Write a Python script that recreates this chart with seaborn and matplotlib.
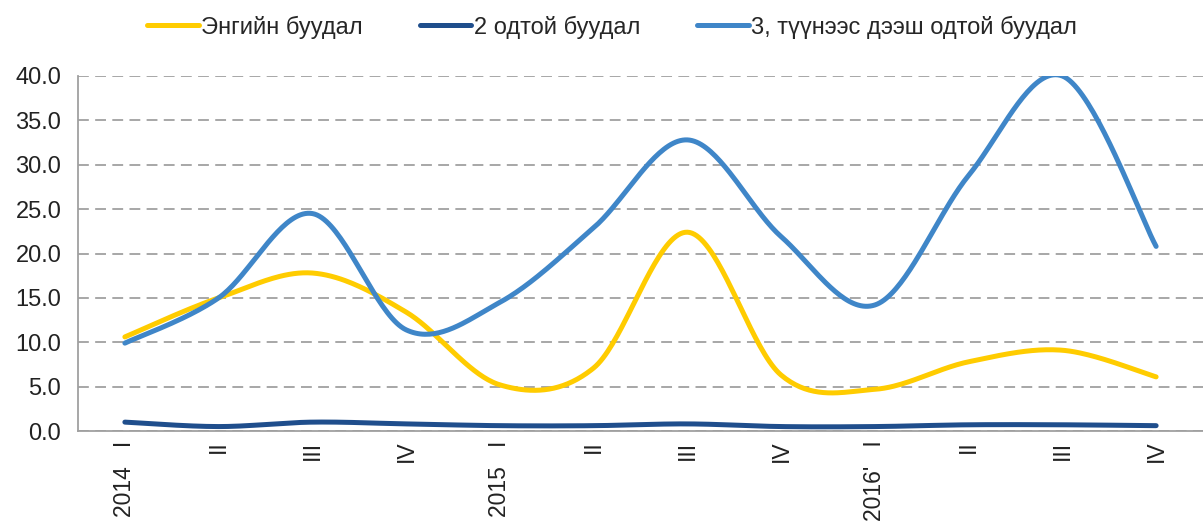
import numpy as np
import pandas as pd
import matplotlib
matplotlib.use('Agg')
import matplotlib.pyplot as plt
import seaborn as sns

# Quarter labels and series values
quarters = ['2014   I', 'II', 'III', 'IV', '2015   I', 'II', 'III', 'IV',
            "2016'   I", 'II', 'III', 'IV']
simple_vals = [10.6, 15.0, 17.8, 13.4, 5.2, 7.1, 22.4, 6.3, 4.7, 7.8, 9.1, 6.1]
two_star_vals = [1.0, 0.5, 1.0, 0.8, 0.6, 0.6, 0.8, 0.5, 0.5, 0.7, 0.7, 0.6]
three_star_vals = [9.9, 15.0, 24.5, 11.4, 14.5, 22.9, 32.8, 21.9, 14.2, 28.8, 40.0, 20.8]

series_names = ['Энгийн буудал', '2 одтой буудал', '3, түүнээс дээш одтой буудал']
series_vals = [simple_vals, two_star_vals, three_star_vals]
colors = ['#FFCC00', '#1F4E8C', '#3F86C8']


def smooth(xs, ys, sx=94.2, sy=8.875, n=40):
    # Catmull-Rom curve through the points (like Excel "smoothed line")
    P = np.column_stack([np.asarray(xs, float) * sx, np.asarray(ys, float) * sy])
    P = np.vstack([P[0], P, P[-1]])
    out = []
    for i in range(1, len(P) - 2):
        p0, p1, p2, p3 = P[i - 1], P[i], P[i + 1], P[i + 2]
        t = np.linspace(0, 1, n, endpoint=False)[:, None]
        c = 0.5 * ((2 * p1) + (-p0 + p2) * t + (2 * p0 - 5 * p1 + 4 * p2 - p3) * t ** 2
                   + (-p0 + 3 * p1 - 3 * p2 + p3) * t ** 3)
        out.append(c)
    out.append(P[-2][None, :])
    out = np.vstack(out)
    return out[:, 0] / sx, out[:, 1] / sy


frames = []
for name, vals in zip(series_names, series_vals):
    cx, cy = smooth(np.arange(len(vals)), vals)
    frames.append(pd.DataFrame({'x': cx, 'y': cy, 'series': name}))
df = pd.concat(frames, ignore_index=True)

sns.set_style('white')
plt.rcParams['font.family'] = ['Liberation Sans', 'DejaVu Sans']

fig = plt.figure(figsize=(12.03, 5.24), dpi=100)
ax = fig.add_axes([78 / 1203, 1 - 431 / 524, 1 - 78 / 1203, (431 - 76) / 524])

sns.lineplot(data=df, x='x', y='y', hue='series', palette=colors, sort=False,
             estimator=None, linewidth=3.6, ax=ax, legend=True)

ax.set_xlim(-0.5, 11.44)
ax.set_ylim(0, 40)
ax.set_yticks(np.arange(0, 40.1, 5))
ax.set_yticklabels([f'{v:.1f}' for v in np.arange(0, 40.1, 5)], fontsize=17, color='#222222')
ax.yaxis.grid(True, linestyle=(0, (6, 3.5)), color='#A0A0A0', linewidth=1.3)
ax.set_axisbelow(True)

# category labels centered, ticks at category boundaries
ax.set_xticks(np.arange(len(quarters)))
ax.set_xticklabels(quarters, rotation=90, fontsize=16.5, color='#222222', va='top')
ax.set_xticks(np.arange(-0.5, len(quarters), 1), minor=True)
ax.tick_params(axis='x', which='major', length=0, pad=7)
ax.tick_params(axis='x', which='minor', length=6, width=1.3, color='#A0A0A0')
ax.tick_params(axis='y', length=8, width=1.3, color='#A0A0A0', pad=4, direction='out')

for s in ['top', 'right']:
    ax.spines[s].set_visible(False)
for s in ['left', 'bottom']:
    ax.spines[s].set_color('#A0A0A0')
    ax.spines[s].set_linewidth(1.3)

ax.set_xlabel('')
ax.set_ylabel('')

handles, labels = ax.get_legend_handles_labels()
ax.legend(handles, labels, loc='center', bbox_to_anchor=(612 / 1203, 1 - 27 / 524),
          bbox_transform=fig.transFigure, ncol=3, frameon=False, fontsize=17,
          handlelength=2.2, handletextpad=0.1, columnspacing=2.4)

fig.savefig('out.png', dpi=100)
